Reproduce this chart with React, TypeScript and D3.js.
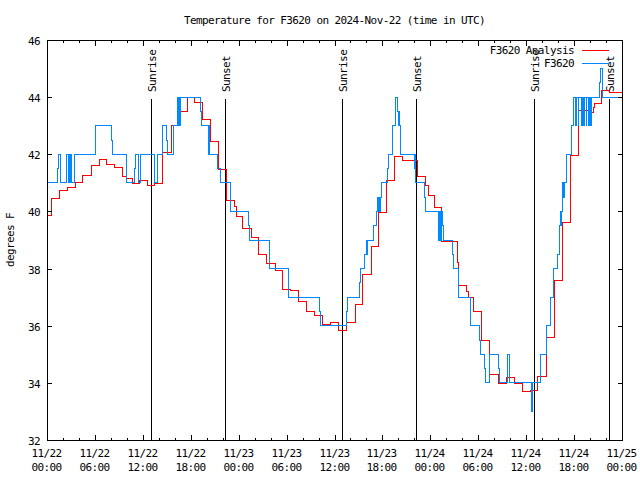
import React from "react";
import * as d3 from "d3";

// ---- data (hours since 2024-11-22 00:00 UTC) ----
const analysisHours = [0, 0.58, 1.6, 2.6, 3.6, 4.5, 5.6, 6.6, 7.5, 8.5, 9.5, 10.0, 10.7, 11.6, 12.6, 13.5, 14.5, 15.6, 16.6, 17.6, 18.5, 19.5, 20.5, 21.5, 22.5, 23.5, 23.7, 24.5, 25.6, 26.5, 27.5, 28.6, 29.5, 30.5, 31.5, 32.5, 33.5, 34.5, 35.5, 36.5, 37.5, 38.6, 39.5, 40.6, 41.5, 42.5, 43.5, 44.5, 46.4, 47.4, 47.8, 48.5, 49.4, 51.4, 51.5, 52.5, 52.8, 53.4, 54.4, 55.4, 56.5, 57.5, 58.5, 59.5, 60.5, 61.4, 62.5, 63.5, 64.5, 65.5, 66.5, 67.75, 68.4, 68.5, 69.4, 70.4, 72];
const analysisTemps = [39.87, 40.46, 40.73, 40.85, 41.0, 41.27, 41.61, 41.82, 41.65, 41.54, 41.24, 41.15, 40.98, 41.08, 40.92, 40.98, 42.06, 43.0, 43.5, 44.0, 43.8, 43.22, 42.46, 41.48, 40.4, 40.18, 39.84, 39.41, 39.09, 38.51, 38.18, 37.95, 37.27, 37.23, 36.86, 36.51, 36.35, 36.06, 36.1, 35.85, 36.1, 36.76, 37.8, 38.78, 39.97, 41.08, 41.94, 41.8, 41.24, 40.92, 40.57, 40.14, 38.96, 38.2, 37.41, 37.2, 37.0, 36.51, 35.5, 34.3, 33.98, 34.19, 33.98, 33.71, 33.75, 34.24, 35.58, 37.6, 39.62, 41.97, 43.55, 43.46, 43.64, 43.78, 44.22, 44.17, 44.17];

const obsHours = [0, 1.33, 1.4, 1.63, 2.5, 2.7, 2.75, 2.8, 2.85, 2.92, 3.0, 3.05, 3.4, 6.05, 8.08, 8.2, 9.9, 11.0, 11.1, 11.4, 11.75, 13.45, 13.5, 13.85, 14.4, 15.0, 15.05, 15.8, 16.3, 16.35, 16.45, 16.5, 16.55, 16.6, 16.65, 16.7, 16.75, 19.25, 19.35, 20.2, 20.25, 20.3, 20.35, 20.4, 21.4, 21.75, 23.0, 25.2, 25.3, 27.8, 30.2, 30.3, 34.1, 34.25, 37.45, 37.6, 39.1, 39.25, 39.8, 39.95, 40.0, 40.1, 40.9, 41.3, 41.35, 41.45, 41.5, 41.6, 41.7, 41.9, 42.6, 42.7, 42.75, 42.8, 43.3, 43.6, 43.9, 44.05, 44.12, 44.18, 44.3, 46.0, 46.1, 46.15, 47.3, 47.4, 49.0, 49.15, 49.3, 49.4, 49.55, 49.7, 50.8, 50.9, 51.5, 53.0, 54.2, 54.3, 54.75, 54.85, 55.45, 56.5, 56.6, 57.6, 57.65, 57.9, 60.7, 60.75, 60.8, 60.85, 61.8, 62.5, 63.0, 63.4, 63.9, 64.2, 64.3, 64.35, 64.4, 64.5, 64.6, 64.7, 64.8, 65.0, 65.7, 65.9, 66.15, 66.25, 66.5, 66.6, 66.9, 67.0, 67.2, 67.3, 67.5, 67.6, 67.8, 67.9, 68.1, 68.2, 69.2, 69.25, 69.6, 72];
const obsTemps = [41, 41.5, 42, 41, 42, 41, 42, 41, 42, 41, 42, 41, 42, 43, 42.5, 42, 41, 41.5, 42, 41, 42, 41.5, 41, 42, 43, 42.5, 42, 43, 43.5, 44, 43, 44, 43.5, 43, 44, 43, 44, 43.5, 43, 42, 43, 42, 43, 42, 41.5, 41, 40, 39.5, 39, 38, 37.5, 37, 36.5, 36, 36.5, 37, 37.5, 38, 38.5, 39, 38.5, 39, 39.5, 40, 40.5, 40, 40.5, 40, 40.5, 41, 41.5, 42, 41.5, 42, 43, 44, 43.5, 43, 43.5, 43, 42, 41.5, 42, 41, 40.5, 40, 39, 40, 39, 40, 39.5, 39, 38.5, 38, 37, 36, 35.5, 35, 34.5, 34, 35, 34.5, 34, 34.5, 35, 34, 33, 34, 33.5, 34, 35, 36, 37, 38, 38.5, 39.5, 40, 39.5, 40, 40.5, 41, 40.5, 41, 42, 43, 44, 43, 44, 43, 44, 43, 44, 43, 44, 43, 44, 43, 44, 43, 44, 44.5, 45, 44, 44];

const sunriseHours = [12.97, 37.0, 61.02];
const sunsetHours = [22.33, 46.25, 70.33];

const yTicks = [32, 34, 36, 38, 40, 42, 44, 46];
const xMajorHours = [0, 6, 12, 18, 24, 30, 36, 42, 48, 54, 60, 66, 72];
const xTickDates = ["11/22", "11/22", "11/22", "11/22", "11/23", "11/23", "11/23", "11/23", "11/24", "11/24", "11/24", "11/24", "11/25"];
const xTickTimes = ["00:00", "06:00", "12:00", "18:00", "00:00", "06:00", "12:00", "18:00", "00:00", "06:00", "12:00", "18:00", "00:00"];

const seriesNames = ["F3620 Analysis", "F3620"];
const seriesColors = ["#ff0000", "#0088ff"];

const FONT = "'DejaVu Sans Mono', 'Liberation Mono', monospace";

export default function App() {
  const L = 47, R = 622, T = 40, B = 440;
  const x = d3.scaleLinear().domain([0, 72]).range([L, R]);
  const y = d3.scaleLinear().domain([32, 46]).range([B, T]);

  const line = d3
    .line<[number, number]>()
    .x((d) => x(d[0]))
    .y((d) => y(d[1]))
    .curve(d3.curveStepAfter);

  const red = analysisHours.map((h, i) => [h, analysisTemps[i]] as [number, number]);
  const blue = obsHours.map((h, i) => [h, obsTemps[i]] as [number, number]);

  const minor = d3.range(0, 73, 2).filter((h) => h % 6 !== 0);
  const txt = { fontFamily: FONT, fontSize: 11, letterSpacing: "-0.6px" } as const;

  const sunLines = [
    ...sunriseHours.map((h) => ({ h, label: "Sunrise" })),
    ...sunsetHours.map((h) => ({ h, label: "Sunset" })),
  ];

  return (
    <svg
      width={640}
      height={480}
      style={{ position: "fixed", left: 0, top: 0, background: "#fff" }}
    >
      <rect x={0} y={0} width={640} height={480} fill="#fff" />
      <text x={(L + R) / 2} y={24} textAnchor="middle" {...txt}>
        Temperature for F3620 on 2024-Nov-22 (time in UTC)
      </text>

      {/* sunrise / sunset */}
      {sunLines.map((s, i) => {
        const sx = Math.round(x(s.h)) + 0.5;
        return (
          <g key={i}>
            <line x1={sx} x2={sx} y1={99} y2={B} stroke="#000" strokeWidth={1} />
            <text transform={`translate(${sx + 4.5},92) rotate(-90)`} textAnchor="start" {...txt}>
              {s.label}
            </text>
          </g>
        );
      })}

      {/* data */}
      <path d={line(red) || ""} fill="none" stroke={seriesColors[0]} strokeWidth={1} shapeRendering="crispEdges" />
      <path d={line(blue) || ""} fill="none" stroke={seriesColors[1]} strokeWidth={1} shapeRendering="crispEdges" />

      {/* frame */}
      <rect x={L + 0.5} y={T + 0.5} width={R - L} height={B - T} fill="none" stroke="#000" strokeWidth={1} />

      {/* y ticks */}
      {yTicks.map((v) => {
        const yy = Math.round(y(v)) + 0.5;
        return (
          <g key={v}>
            <line x1={L} x2={L + 5} y1={yy} y2={yy} stroke="#000" />
            <line x1={R + 1} x2={R - 4} y1={yy} y2={yy} stroke="#000" />
            <text x={40} y={yy + 4} textAnchor="end" {...txt}>
              {v}
            </text>
          </g>
        );
      })}

      {/* x ticks */}
      {xMajorHours.map((h, i) => {
        const xx = Math.round(x(h)) + 0.5;
        return (
          <g key={h}>
            <line x1={xx} x2={xx} y1={B + 1} y2={B - 5} stroke="#000" />
            <line x1={xx} x2={xx} y1={T} y2={T + 6} stroke="#000" />
            <text x={xx - 1} y={457} textAnchor="middle" {...txt}>
              {xTickDates[i]}
            </text>
            <text x={xx - 1} y={471} textAnchor="middle" {...txt}>
              {xTickTimes[i]}
            </text>
          </g>
        );
      })}
      {minor.map((h) => {
        const xx = Math.round(x(h)) + 0.5;
        return (
          <g key={"m" + h}>
            <line x1={xx} x2={xx} y1={B + 1} y2={B - 2} stroke="#000" />
            <line x1={xx} x2={xx} y1={T} y2={T + 3} stroke="#000" />
          </g>
        );
      })}

      {/* y label */}
      <text transform="translate(14,240) rotate(-90)" textAnchor="middle" {...txt}>
        degrees F
      </text>

      {/* legend */}
      {seriesNames.map((n, i) => (
        <g key={n}>
          <text x={574} y={54 + i * 13} textAnchor="end" {...txt}>
            {n}
          </text>
          <line x1={582} x2={609} y1={50.5 + i * 13} y2={50.5 + i * 13} stroke={seriesColors[i]} strokeWidth={1} />
        </g>
      ))}
    </svg>
  );
}
